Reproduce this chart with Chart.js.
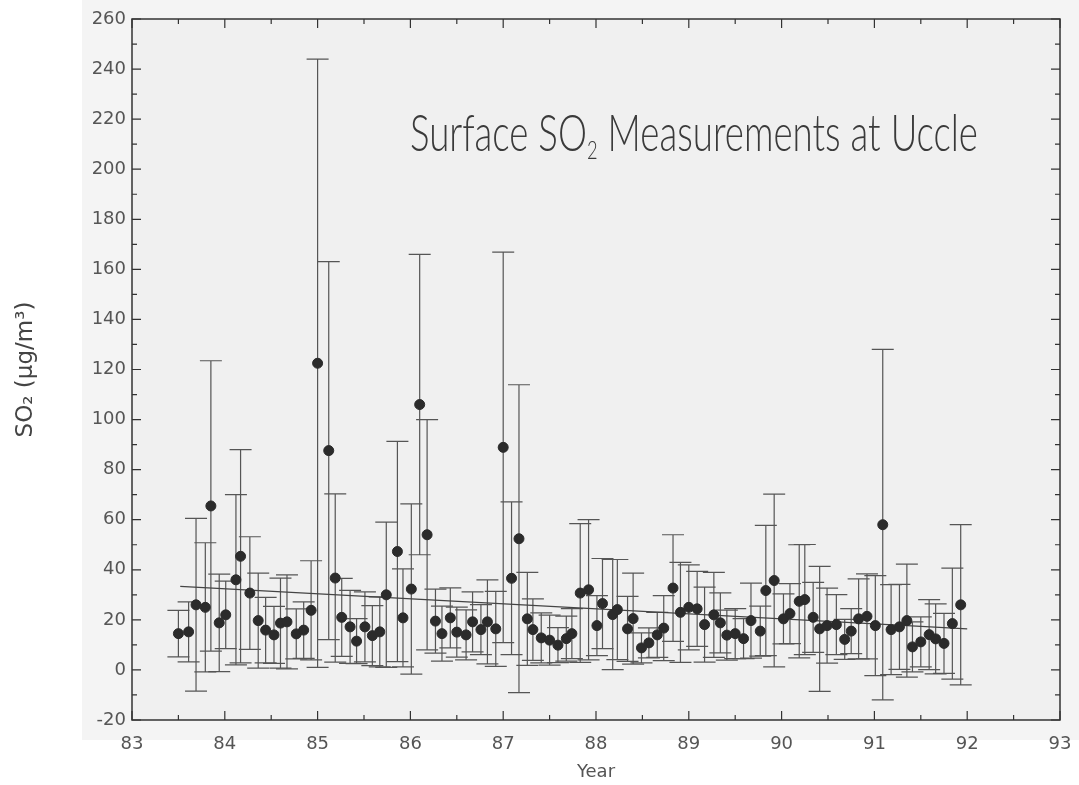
<!DOCTYPE html>
<html>
<head>
<meta charset="utf-8">
<script src="https://cdn.jsdelivr.net/npm/chart.js@4.4.1/dist/chart.umd.min.js"></script>
<style>
  html, body { margin: 0; padding: 0; background: #fff; }
  #wrap { position: relative; width: 1079px; height: 785px; }
  #title {
    position: absolute; left: 410px; top: 100px;
    font-family: Lato, 'DejaVu Sans', sans-serif; font-weight: 300;
    font-size: 52px; color: #3a3a3a; white-space: nowrap;
    transform-origin: 0 0; transform: scaleX(0.705);
  }
  #title sub { font-size: 26px; vertical-align: -8px; }
</style>
</head>
<body>
<div id="wrap">
  <canvas id="chart" width="1079" height="785"></canvas>
  <div id="title">Surface SO<sub>2</sub> Measurements at Uccle</div>
</div>
<script>
// monthly means (decimal year)
const years = [
  83.50, 83.61, 83.69, 83.79, 83.85, 83.94, 84.01, 84.12, 84.17, 84.27,
  84.36, 84.44, 84.53, 84.60, 84.67, 84.77, 84.85, 84.93, 85.00, 85.12,
  85.19, 85.26, 85.35, 85.42, 85.51, 85.59, 85.67, 85.74, 85.86, 85.92,
  86.01, 86.10, 86.18, 86.27, 86.34, 86.43, 86.50, 86.60, 86.67, 86.76,
  86.83, 86.92, 87.00, 87.09, 87.17, 87.26, 87.32, 87.41, 87.50, 87.59,
  87.68, 87.74, 87.83, 87.92, 88.01, 88.07, 88.18, 88.23, 88.34, 88.40,
  88.49, 88.57, 88.66, 88.73, 88.83, 88.91, 89.00, 89.09, 89.17, 89.27,
  89.34, 89.41, 89.50, 89.59, 89.67, 89.77, 89.83, 89.92, 90.02, 90.09,
  90.19, 90.25, 90.34, 90.41, 90.49, 90.59, 90.68, 90.75, 90.83, 90.92,
  91.01, 91.09, 91.18, 91.27, 91.35, 91.41, 91.50, 91.59, 91.66, 91.75,
  91.84, 91.93
];
const so2 = [
  14.5, 15.2, 26.0, 25.0, 65.5, 18.8, 22.0, 36.0, 45.4, 30.7,
  19.7, 15.9, 14.0, 18.7, 19.2, 14.4, 15.9, 23.8, 122.5, 87.6,
  36.7, 21.0, 17.2, 11.5, 17.2, 13.7, 15.2, 30.0, 47.3, 20.8,
  32.3, 106.0, 54.0, 19.5, 14.5, 20.8, 15.1, 14.0, 19.2, 16.1,
  19.2, 16.4, 88.9, 36.6, 52.4, 20.4, 16.1, 12.8, 11.9, 9.9,
  12.5, 14.5, 30.7, 32.0, 17.7, 26.5, 22.1, 24.1, 16.4, 20.5,
  8.8, 10.8, 14.0, 16.7, 32.7, 23.0, 25.0, 24.4, 18.1, 22.0,
  18.8, 13.9, 14.5, 12.5, 19.7, 15.5, 31.7, 35.7, 20.4, 22.5,
  27.4, 28.1, 21.0, 16.4, 17.7, 18.1, 12.2, 15.5, 20.4, 21.4,
  17.7, 58.0, 16.1, 17.2, 19.7, 9.2, 11.2, 14.1, 12.4, 10.6,
  18.5, 26.0
];
// standard deviation (half length of error bar)
const so2Err = [
  9.3, 12.0, 34.5, 25.8, 58.0, 19.5, 13.5, 34.0, 42.6, 22.5,
  19.0, 13.1, 11.4, 18.0, 18.8, 10.0, 11.3, 19.8, 121.5, 75.5,
  33.6, 15.6, 14.6, 9.0, 14.0, 12.0, 14.0, 29.0, 44.0, 19.6,
  34.0, 60.0, 46.0, 12.8, 11.0, 12.0, 10.0, 10.0, 12.0, 10.0,
  16.8, 15.0, 78.0, 30.5, 61.5, 18.6, 12.3, 10.0, 10.0, 7.0,
  9.0, 10.0, 27.7, 28.0, 12.0, 18.0, 22.0, 20.0, 13.0, 18.2,
  6.0, 6.0, 9.0, 13.0, 21.3, 20.0, 17.0, 15.0, 15.0, 17.0,
  12.0, 10.0, 10.0, 8.0, 15.0, 10.0, 26.0, 34.5, 10.0, 12.0,
  22.6, 22.0, 14.0, 25.0, 15.0, 12.0, 8.0, 9.0, 16.0, 17.0,
  20.0, 70.0, 18.0, 17.0, 22.6, 10.0, 10.0, 14.0, 14.0, 12.0,
  22.2, 32.0
];
// linear trend
const trendYears = [83.52, 92.0];
const trendSO2 = [33.4, 16.4];

const xTicks = [83, 84, 85, 86, 87, 88, 89, 90, 91, 92, 93];
const yTicks = [-20, 0, 20, 40, 60, 80, 100, 120, 140, 160, 180, 200, 220, 240, 260];

const ink = '#2b2b2b';
const tickFont = { family: "'DejaVu Sans', sans-serif", size: 18 };

const paper = {
  id: 'paper',
  beforeDraw(chart) {
    const { ctx, chartArea: a } = chart;
    ctx.save();
    ctx.fillStyle = '#ffffff';
    ctx.fillRect(0, 0, chart.width, chart.height);
    ctx.fillStyle = '#f4f4f4';
    ctx.fillRect(82, 0, chart.width - 82, 740);
    ctx.fillStyle = '#f0f0f0';
    ctx.fillRect(a.left, a.top, a.right - a.left, a.bottom - a.top);
    ctx.restore();
  }
};

const errorBars = {
  id: 'errorBars',
  beforeDatasetsDraw(chart) {
    const { ctx, scales: { x, y } } = chart;
    ctx.save();
    ctx.strokeStyle = '#555';
    ctx.lineWidth = 1.2;
    years.forEach((yr, i) => {
      const px = x.getPixelForValue(yr);
      const hi = y.getPixelForValue(so2[i] + so2Err[i]);
      const lo = y.getPixelForValue(so2[i] - so2Err[i]);
      ctx.beginPath();
      ctx.moveTo(px, hi); ctx.lineTo(px, lo);
      ctx.moveTo(px - 11, hi); ctx.lineTo(px + 11, hi);
      ctx.moveTo(px - 11, lo); ctx.lineTo(px + 11, lo);
      ctx.stroke();
    });
    ctx.restore();
  }
};

// frame with inward ticks on all four sides
const frame = {
  id: 'frame',
  afterDraw(chart) {
    const { ctx, chartArea: a, scales: { x, y } } = chart;
    ctx.save();
    ctx.strokeStyle = '#333';
    ctx.lineWidth = 1.5;
    ctx.strokeRect(a.left, a.top, a.right - a.left, a.bottom - a.top);
    ctx.lineWidth = 1.2;
    ctx.beginPath();
    for (let i = 0; i < xTicks.length; i++) {
      const v = xTicks[i];
      const px = x.getPixelForValue(v);
      ctx.moveTo(px, a.bottom); ctx.lineTo(px, a.bottom - 9);
      ctx.moveTo(px, a.top); ctx.lineTo(px, a.top + 9);
      if (i < xTicks.length - 1) {
        const pm = x.getPixelForValue(v + 0.5);
        ctx.moveTo(pm, a.bottom); ctx.lineTo(pm, a.bottom - 5);
        ctx.moveTo(pm, a.top); ctx.lineTo(pm, a.top + 5);
      }
    }
    for (let i = 0; i < yTicks.length; i++) {
      const v = yTicks[i];
      const py = y.getPixelForValue(v);
      ctx.moveTo(a.left, py); ctx.lineTo(a.left + 9, py);
      ctx.moveTo(a.right, py); ctx.lineTo(a.right - 9, py);
      if (i < yTicks.length - 1) {
        const pm = y.getPixelForValue(v + 10);
        ctx.moveTo(a.left, pm); ctx.lineTo(a.left + 5, pm);
        ctx.moveTo(a.right, pm); ctx.lineTo(a.right - 5, pm);
      }
    }
    ctx.stroke();
    ctx.restore();
  }
};

new Chart(document.getElementById('chart').getContext('2d'), {
  type: 'scatter',
  data: {
    datasets: [
      {
        label: 'SO2',
        data: years.map((yr, i) => ({ x: yr, y: so2[i] })),
        pointRadius: 5,
        pointBackgroundColor: ink,
        pointBorderColor: ink,
        order: 1,
      },
      {
        type: 'line',
        label: 'trend',
        data: trendYears.map((yr, i) => ({ x: yr, y: trendSO2[i] })),
        borderColor: '#444',
        borderWidth: 1.3,
        pointRadius: 0,
        order: 2,
      },
    ],
  },
  options: {
    responsive: false,
    animation: false,
    layout: { padding: { top: 19, right: 19, left: 0, bottom: 0 } },
    plugins: { legend: { display: false }, tooltip: { enabled: false } },
    scales: {
      x: {
        type: 'linear', min: 83, max: 93,
        afterBuildTicks: (s) => { s.ticks = xTicks.map(v => ({ value: v })); },
        ticks: { font: tickFont, color: '#555', padding: 14, maxRotation: 0 },
        grid: { display: false, drawTicks: false },
        border: { display: false },
        title: { display: true, text: 'Year', font: tickFont, color: '#555', padding: { top: 0, bottom: 2 } },
        afterFit: (s) => { s.height = 65; s.paddingLeft = 0; s.paddingRight = 0; },
      },
      y: {
        type: 'linear', min: -20, max: 260,
        afterBuildTicks: (s) => { s.ticks = yTicks.map(v => ({ value: v })); },
        ticks: { font: tickFont, color: '#555', padding: 6 },
        grid: { display: false, drawTicks: false },
        border: { display: false },
        title: { display: true, text: 'SO₂ (μg/m³)', font: { family: "'DejaVu Sans', sans-serif", size: 23 }, color: '#444', padding: { top: 12, bottom: 0 } },
        afterFit: (s) => { s.width = 132; s.paddingTop = 0; s.paddingBottom = 0; },
      },
    },
  },
  plugins: [paper, errorBars, frame],
});
</script>
</body>
</html>
